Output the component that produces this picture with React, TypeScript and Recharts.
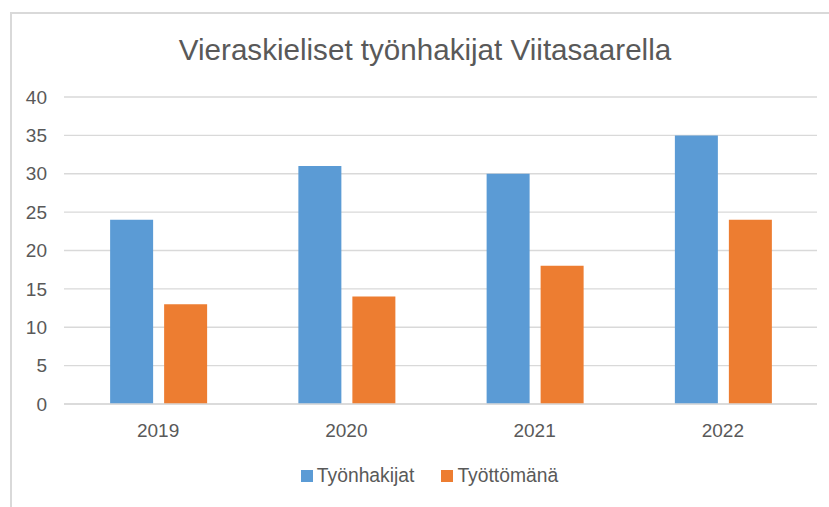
import React from 'react';
import { BarChart, Bar, XAxis, YAxis, CartesianGrid, Legend } from 'recharts';

const years = ['2019', '2020', '2021', '2022'];
const tyonhakijat = [24, 31, 30, 35];
const tyottomana = [13, 14, 18, 24];
const yTicks = [0, 5, 10, 15, 20, 25, 30, 35, 40];

const data = years.map((y, i) => ({ year: y, Työnhakijat: tyonhakijat[i], Työttömänä: tyottomana[i] }));

const FONT = '"Liberation Sans", Arial, sans-serif';
const TEXT = '#595959';

const renderLegend = (props: any) => {
  const { payload } = props;
  return (
    <div style={{ display: 'flex', justifyContent: 'center', fontFamily: FONT, fontSize: 19.3, color: TEXT }}>
      {payload.map((p: any, i: number) => (
        <div key={i} style={{ display: 'flex', alignItems: 'center', marginLeft: i === 0 ? 0 : 27 }}>
          <div style={{ width: 12, height: 12, background: p.color, marginRight: 4 }} />
          <span>{p.value}</span>
        </div>
      ))}
    </div>
  );
};

export default function App() {
  return (
    <div style={{ position: 'absolute', left: 0, top: 0, width: 829, height: 507, overflow: 'hidden', background: '#fff' }}>
      <div style={{ position: 'absolute', left: 10, top: 12, width: 900, height: 600, border: '2px solid #D9D9D9', boxSizing: 'border-box' }} />
      <div style={{ position: 'absolute', left: 0, top: 35, width: 850, textAlign: 'center', fontFamily: FONT, fontSize: 29.6, lineHeight: '29px', color: TEXT, whiteSpace: 'nowrap' }}>
        Vieraskieliset työnhakijat Viitasaarella
      </div>
      <div style={{ position: 'absolute', left: 0, top: 0 }}>
        <BarChart
          width={829}
          height={507}
          data={data}
          margin={{ top: 97, right: 12, left: 0, bottom: 73 }}
          barCategoryGap="24.5%"
          barGap={11}
        >
          <CartesianGrid horizontal={true} vertical={false} stroke="#D9D9D9" strokeWidth={1.3} />
          <XAxis
            dataKey="year"
            tickLine={false}
            axisLine={{ stroke: '#D9D9D9', strokeWidth: 1.3 }}
            tick={{ fill: TEXT, fontSize: 19, fontFamily: FONT }}
            tickMargin={14}
            height={30}
          />
          <YAxis
            width={64}
            domain={[0, 40]}
            ticks={yTicks}
            tickLine={false}
            axisLine={false}
            tick={{ fill: TEXT, fontSize: 19, fontFamily: FONT }}
            tickMargin={11}
          />
          <Legend
            layout="horizontal"
            verticalAlign="middle"
            align="center"
            content={renderLegend}
            wrapperStyle={{ position: 'absolute', top: 465, left: 15, width: 829 }}
          />
          <Bar dataKey="Työnhakijat" fill="#5B9BD5" isAnimationActive={false} />
          <Bar dataKey="Työttömänä" fill="#ED7D31" isAnimationActive={false} />
        </BarChart>
      </div>
    </div>
  );
}
